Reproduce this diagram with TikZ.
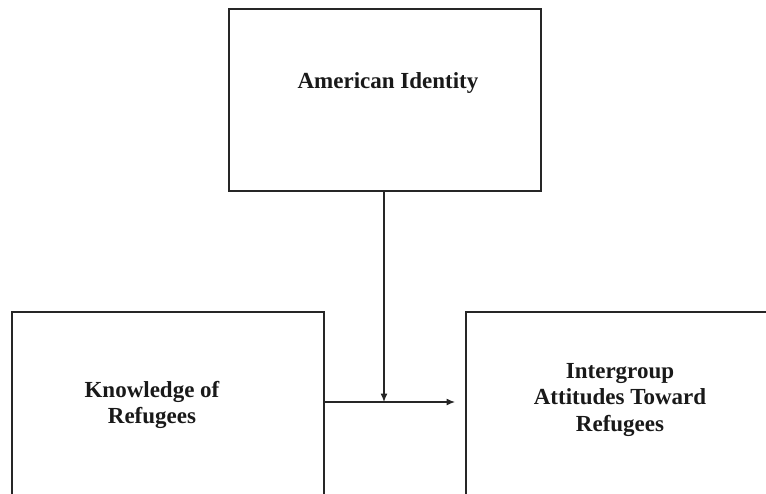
\documentclass[tikz,border=0pt]{standalone}
\usepackage{fontspec}
\setmainfont{Liberation Serif}
\usetikzlibrary{arrows.meta}
\begin{document}
\begin{tikzpicture}[x=1pt,y=-1pt,
  box/.style={draw=black!85, line width=1.2pt, rectangle, inner sep=0pt},
  lbl/.style={font=\bfseries\fontsize{23}{26.5}\selectfont, align=center, inner sep=0pt, text=black!90},
  conn/.style={draw=black!85, line width=1.2pt},
  tip/.style={-{Latex[length=8.5pt,width=7pt]}}]
\useasboundingbox (0,0) rectangle (766,493);
\clip (0,0) rectangle (766,493);
\fill[white] (0,0) rectangle (766,493);
\node[box, minimum width=312pt, minimum height=182pt] (top) at (385,100) {};
\node[box, minimum width=312pt, minimum height=208pt] (left) at (168,416) {};
\node[box, minimum width=334pt, minimum height=208pt] (right) at (633,416) {};
\node[lbl] (toptext) at (388,83) {American Identity};
\node[lbl] (lefttext) at (152,405) {Knowledge of\\Refugees};
\node[lbl] (righttext) at (620,400) {Intergroup\\Attitudes Toward\\Refugees};
\coordinate (hend) at (455,402);
\draw[conn, tip] (left.east |- hend) -- (hend);
\draw[conn, tip] ([xshift=-1pt]top.south) -- ([xshift=-1pt]top.south |- hend);
\end{tikzpicture}
\end{document}
